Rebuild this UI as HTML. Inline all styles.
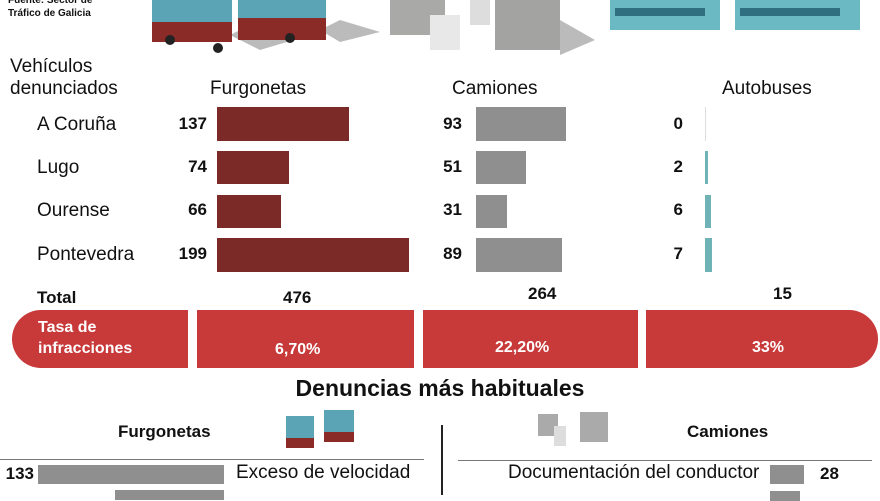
<!DOCTYPE html>
<html><head><meta charset="utf-8"><style>
body{margin:0;width:880px;height:495px;overflow:hidden;background:#fff;font-family:"Liberation Sans",sans-serif;color:#111;position:relative}
.a{position:absolute;white-space:nowrap}
.b{font-weight:bold}
.bar{position:absolute}
.m{background:#7c2a27}.g{background:#8f8f8f}.t{background:#6fb3b6}
.num{position:absolute;font-weight:bold;font-size:17px;text-align:right;width:50px}
.lab{position:absolute;font-size:19px}
.red{position:absolute;top:310px;height:58px;background:#c8393a;color:#fff;font-weight:bold;font-size:16px}
</style></head><body>
<div class="a b" style="left:8px;top:-6px;font-size:10px;line-height:13px">Fuente: Sector de<br>Tráfico de Galicia</div>
<svg class="a" style="left:140px;top:0" width="740" height="60">
<polygon points="90,35 120,50 160,38 110,25" fill="#bbb"/>
<polygon points="180,30 200,42 240,32 200,20" fill="#bbb"/>
<rect x="12" y="0" width="80" height="22" fill="#5aa4b6"/><rect x="12" y="22" width="80" height="20" fill="#8b2b28"/>
<rect x="98" y="0" width="88" height="18" fill="#5aa4b6"/><rect x="98" y="18" width="88" height="22" fill="#8b2b28"/>
<circle cx="30" cy="40" r="5" fill="#222"/><circle cx="78" cy="48" r="5" fill="#222"/><circle cx="150" cy="38" r="5" fill="#222"/>
<rect x="250" y="0" width="55" height="35" fill="#a9a9a7"/><rect x="290" y="15" width="30" height="35" fill="#e8e8e8"/>
<rect x="330" y="0" width="20" height="25" fill="#ddd"/><rect x="355" y="0" width="65" height="50" fill="#a3a3a1"/>
<polygon points="420,20 455,40 420,55" fill="#bbb"/>
<rect x="470" y="0" width="110" height="30" fill="#6ab9c3"/><rect x="595" y="0" width="125" height="30" fill="#6ab9c3"/>
<rect x="475" y="8" width="90" height="8" fill="#2f6f80"/><rect x="600" y="8" width="100" height="8" fill="#2f6f80"/>
</svg>
<div class="a" style="left:10px;top:56px;font-size:19px;line-height:22px">Vehículos<br>denunciados</div>
<div class="lab" style="left:210px;top:78px">Furgonetas</div>
<div class="lab" style="left:452px;top:78px">Camiones</div>
<div class="lab" style="left:722px;top:78px">Autobuses</div>

<div class="lab" style="left:37px;top:114px">A Coruña</div>
<div class="lab" style="left:37px;top:157px">Lugo</div>
<div class="lab" style="left:37px;top:200px">Ourense</div>
<div class="lab" style="left:37px;top:244px">Pontevedra</div>

<div class="num" style="left:157px;top:114px">137</div><div class="bar m" style="left:217px;top:107px;width:132px;height:34px"></div>
<div class="num" style="left:157px;top:157px">74</div><div class="bar m" style="left:217px;top:151px;width:72px;height:33px"></div>
<div class="num" style="left:157px;top:200px">66</div><div class="bar m" style="left:217px;top:195px;width:64px;height:33px"></div>
<div class="num" style="left:157px;top:244px">199</div><div class="bar m" style="left:217px;top:238px;width:192px;height:34px"></div>

<div class="num" style="left:412px;top:114px">93</div><div class="bar g" style="left:476px;top:107px;width:90px;height:34px"></div>
<div class="num" style="left:412px;top:157px">51</div><div class="bar g" style="left:476px;top:151px;width:50px;height:33px"></div>
<div class="num" style="left:412px;top:200px">31</div><div class="bar g" style="left:476px;top:195px;width:31px;height:33px"></div>
<div class="num" style="left:412px;top:244px">89</div><div class="bar g" style="left:476px;top:238px;width:86px;height:34px"></div>

<div class="num" style="left:633px;top:114px">0</div><div class="bar" style="left:705px;top:107px;width:1px;height:34px;background:#ddd"></div>
<div class="num" style="left:633px;top:157px">2</div><div class="bar t" style="left:705px;top:151px;width:3px;height:33px"></div>
<div class="num" style="left:633px;top:200px">6</div><div class="bar t" style="left:705px;top:195px;width:6px;height:33px"></div>
<div class="num" style="left:633px;top:244px">7</div><div class="bar t" style="left:705px;top:238px;width:7px;height:34px"></div>

<div class="a b" style="left:37px;top:288px;font-size:17px">Total</div>
<div class="a b" style="left:283px;top:288px;font-size:17px">476</div>
<div class="a b" style="left:528px;top:284px;font-size:17px">264</div>
<div class="a b" style="left:773px;top:284px;font-size:17px">15</div>

<div class="red" style="left:12px;width:176px;border-radius:29px 0 0 29px"><div style="padding:7px 0 0 26px;line-height:21px">Tasa de<br>infracciones</div></div>
<div class="red" style="left:197px;width:217px"><div style="padding:31px 0 0 78px">6,70%</div></div>
<div class="red" style="left:423px;width:215px"><div style="padding:29px 0 0 72px">22,20%</div></div>
<div class="red" style="left:646px;width:232px;border-radius:0 29px 29px 0"><div style="padding:29px 0 0 106px">33%</div></div>

<div class="a b" style="left:0;width:880px;text-align:center;top:375px;font-size:23px">Denuncias más habituales</div>
<div class="a b" style="left:118px;top:422px;font-size:17px">Furgonetas</div>
<div class="a b" style="left:687px;top:422px;font-size:17px">Camiones</div>
<svg class="a" style="left:280px;top:408px" width="340" height="45">
<rect x="6" y="8" width="28" height="22" fill="#5aa4b6"/><rect x="6" y="30" width="28" height="10" fill="#8b2b28"/>
<rect x="44" y="2" width="30" height="22" fill="#5aa4b6"/><rect x="44" y="24" width="30" height="10" fill="#8b2b28"/>
<rect x="258" y="6" width="20" height="22" fill="#aaa"/><rect x="274" y="18" width="12" height="20" fill="#ddd"/>
<rect x="300" y="4" width="28" height="30" fill="#aaa"/>
</svg>
<div class="a" style="left:441px;top:425px;width:2px;height:70px;background:#222"></div>
<div class="a" style="left:0;top:459px;width:424px;height:1px;background:#777"></div>
<div class="a" style="left:458px;top:460px;width:414px;height:1px;background:#777"></div>
<div class="a b" style="left:0;width:34px;text-align:right;top:464px;font-size:17px">133</div>
<div class="bar g" style="left:38px;top:465px;width:186px;height:19px"></div>
<div class="a" style="left:236px;top:462px;font-size:19px">Exceso de velocidad</div>
<div class="bar g" style="left:115px;top:490px;width:109px;height:10px"></div>
<div class="a" style="left:508px;top:462px;font-size:19px">Documentación del conductor</div>
<div class="bar g" style="left:770px;top:465px;width:34px;height:19px"></div>
<div class="a b" style="left:820px;top:464px;font-size:17px">28</div>
<div class="bar g" style="left:770px;top:491px;width:30px;height:10px"></div>
</body></html>
